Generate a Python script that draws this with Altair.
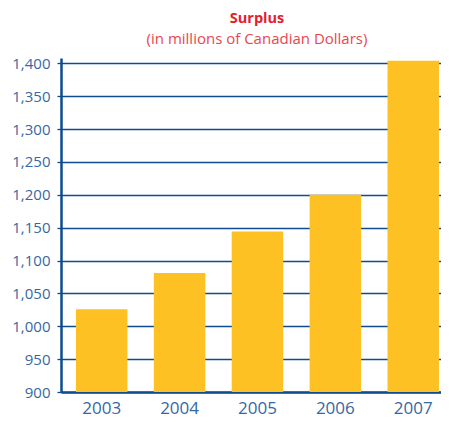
import altair as alt
import pandas as pd

years = ["2003", "2004", "2005", "2006", "2007"]
surplus = [1026, 1081, 1144, 1200, 1404]
y_ticks = [900, 950, 1000, 1050, 1100, 1150, 1200, 1250, 1300, 1350, 1400]

df = pd.DataFrame({"year": years, "surplus": surplus})

AXIS_BLUE = "#0d4c8f"
LABEL_BLUE = "#3767a3"

chart = alt.Chart(df).mark_bar(color="#fdc124", clip=True).encode(
    x=alt.X("year:N", sort=years,
            scale=alt.Scale(paddingInner=0.339, paddingOuter=0.109, align=0.88),
            axis=alt.Axis(title=None, labelAngle=0, ticks=False, grid=False,
                          labelFontSize=17, labelColor=LABEL_BLUE, labelPadding=8,
                          labelFont="Open Sans", domainColor=AXIS_BLUE, domainWidth=2.5)),
    y=alt.Y("surplus:Q",
            scale=alt.Scale(domain=[900, 1408], nice=False, zero=False),
            axis=alt.Axis(title=None, values=y_ticks, format=",.0f", grid=True,
                          gridColor=AXIS_BLUE, gridWidth=1.3, gridOpacity=1,
                          tickColor=AXIS_BLUE, tickSize=4, tickWidth=1.3,
                          labelFontSize=15, labelColor=LABEL_BLUE, labelPadding=7,
                          labelFont="Open Sans", domainColor=AXIS_BLUE, domainWidth=2.5)),
).properties(
    width=380,
    height=334,
    title=alt.TitleParams(
        text="Surplus",
        subtitle="(in millions of Canadian Dollars)",
        anchor="middle",
        dx=6,
        font="Open Sans",
        fontSize=14.5,
        fontWeight="bold",
        color="#e3202e",
        subtitleFont="Open Sans",
        subtitleFontSize=15,
        subtitleColor="#e9474f",
        subtitlePadding=6,
        offset=8,
    ),
    autosize=alt.AutoSizeParams(type="none"),
    padding={"left": 53, "top": 50, "right": 0, "bottom": 26},
).configure_view(stroke=None)

chart.save("out.html", embed_options={"renderer": "svg", "actions": False})
